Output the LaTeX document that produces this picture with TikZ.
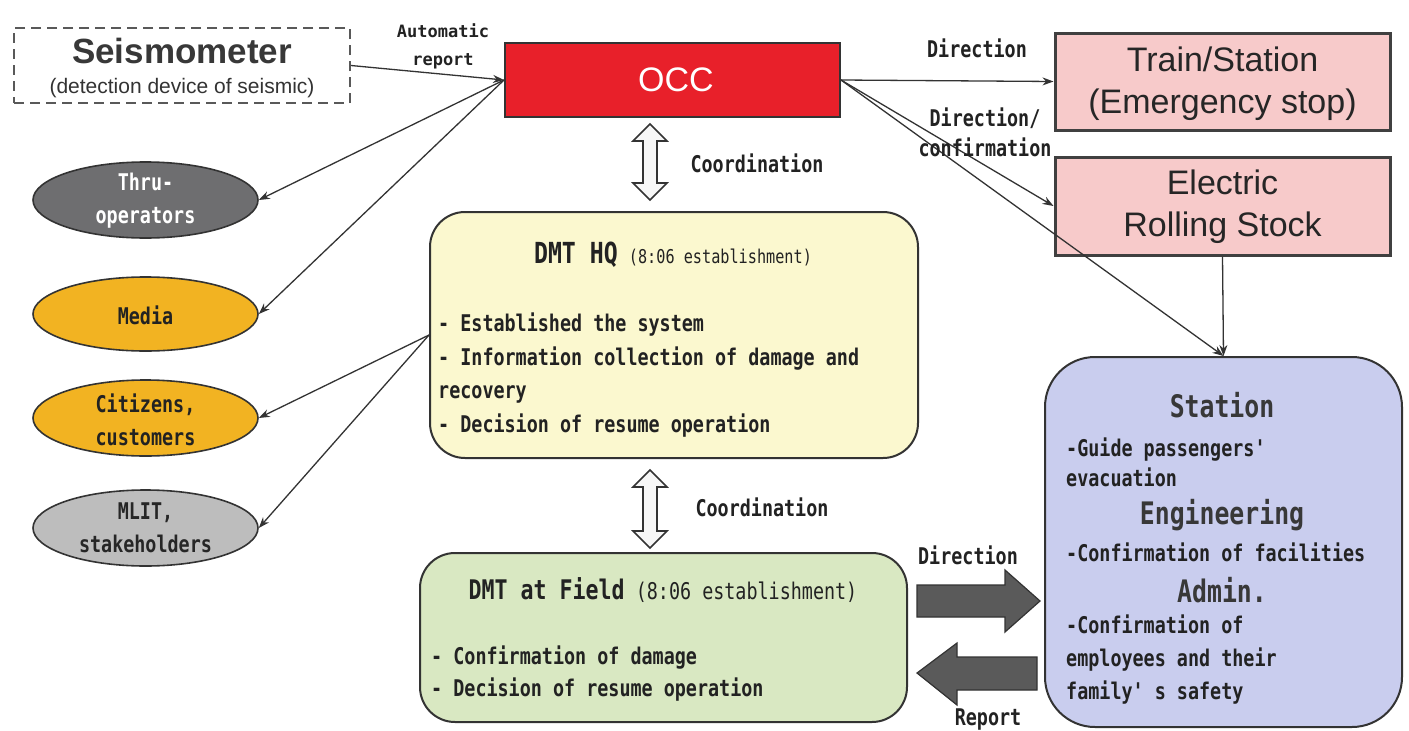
\documentclass[tikz,border=0pt]{standalone}
\usepackage{fontspec}
\setmainfont{Liberation Sans}
\newfontfamily\gothic[FakeStretch=0.8]{DejaVu Sans Mono}
\newfontfamily\gothicw{DejaVu Sans Mono}
\usetikzlibrary{arrows.meta,shapes.geometric}
\newcommand\setfs[2]{\fontsize{#1}{#2}\selectfont}

\definecolor{occred}{HTML}{E8202A}
\definecolor{pinkbox}{HTML}{F7CACA}
\definecolor{hqfill}{HTML}{FBF8CF}
\definecolor{fieldfill}{HTML}{D9E8C2}
\definecolor{stationfill}{HTML}{C9CDEE}
\definecolor{darkoval}{HTML}{6E6E70}
\definecolor{goldoval}{HTML}{F2B322}
\definecolor{lightoval}{HTML}{BDBDBD}
\definecolor{edge}{HTML}{333333}
\definecolor{ink}{HTML}{222222}
\definecolor{fatgray}{HTML}{5A5A5A}

\tikzset{
  shapebox/.style={draw=edge, line width=2pt, inner sep=0pt},
  seisbox/.style={draw=black!65, line width=2pt, dash pattern=on 10pt off 6pt, inner sep=0pt},
  pinkrect/.style={shapebox, fill=pinkbox, line width=3pt, draw=black!75},
  roundbox/.style={shapebox, rounded corners=35pt},
  oval/.style={ellipse, draw=edge, line width=1.6pt, inner sep=0pt, minimum width=225, minimum height=76},
  conn/.style={draw=edge, line width=1.3pt, -{Stealth[length=11pt,width=8pt]}},
  gtext/.style={inner sep=0pt, text=ink, font=\gothic\bfseries\setfs{23}{33}},
  gtitle/.style={inner sep=0pt, text=ink!90, font=\gothic\bfseries\setfs{31}{34}},
  atext/.style={inner sep=0pt, text=black!85},
  hollowarrow/.style={draw=edge, line width=1.6pt, fill=gray!6, line join=miter},
  fatarrow/.style={draw=edge, line width=1.2pt, fill=fatgray, line join=miter}
}

\begin{document}
\begin{tikzpicture}[x=1pt,y=-1pt]
\useasboundingbox (0,0) rectangle (1409,731);
\fill[white] (0,0) rectangle (1409,731);

% ---- boxes ----
\node[seisbox, minimum width=336, minimum height=75] (seis) at (182,65.5) {};
\node[shapebox, fill=occred, draw=black!80, minimum width=335, minimum height=74] (occ) at (672.5,80) {};
\node[pinkrect, minimum width=335, minimum height=97] (train) at (1222.5,81.5) {};
\node[pinkrect, minimum width=335, minimum height=98] (ers) at (1222.5,206) {};
\node[roundbox, fill=hqfill, minimum width=488, minimum height=246] (hq) at (674,335) {};
\node[roundbox, fill=fieldfill, minimum width=487, minimum height=169] (field) at (663.5,637.5) {};
\node[shapebox, rounded corners=50pt, fill=stationfill, minimum width=357, minimum height=370] (station) at (1223.5,542) {};

% ---- ovals ----
\node[oval, fill=darkoval] (thru) at (145.5,200) {};
\node[oval, fill=goldoval, minimum height=74] (media) at (145.5,314) {};
\node[oval, fill=goldoval] (citizens) at (145.5,418) {};
\node[oval, fill=lightoval] (mlit) at (145.5,528) {};

% ---- texts in boxes ----
\node[atext, font=\bfseries\setfs{35}{40}, text=black!78] (seist) at (182,51) {Seismometer};
\node[atext, font=\setfs{21}{24}, text=black!80] (seiss) at (182,88) {(detection device of seismic)};
\node[inner sep=0pt, text=white, font=\setfs{34}{38}] (occt) at (676,80) {OCC};
\node[atext, align=center, font=\setfs{34}{42}] (traint) at (1222.5,84) {Train/Station\\(Emergency stop)};
\node[atext, align=center, font=\setfs{34}{42}] (erst) at (1222.5,207) {Electric\\Rolling Stock};

\node[gtext, align=center, text=white] (thrut) at (145.5,201) {Thru-\\operators};
\node[gtext] (mediat) at (145.5,315) {Media};
\node[gtext, align=center] (citizenst) at (145.5,420) {Citizens,\\customers};
\node[gtext, align=center, text=black!85] (mlitt) at (145.5,528) {MLIT,\\stakeholders};

\node[gtext] (hqtitle) at (673,255) {{\setfs{29}{33}DMT HQ} {\mdseries\setfs{19}{22}(8:06 establishment)}};
\node[gtext, align=left, anchor=west, font=\gothic\bfseries\setfs{23}{33.5}] (hqbody) at (438,375)
  {- Established the system\\- Information collection of damage and\\recovery\\- Decision of resume operation};

\node[gtext] (fieldtitle) at (663,590) {{\setfs{27}{33}DMT at Field} {\mdseries(8:06 establishment)}};
\node[gtext, align=left, anchor=west, font=\gothic\bfseries\setfs{23}{32}] (fieldbody) at (431,674)
  {- Confirmation of damage\\- Decision of resume operation};

\node[gtitle] (st1) at (1222,405) {Station};
\node[gtext, align=left, anchor=west, font=\gothic\bfseries\setfs{23}{30}] (st1b) at (1066,462)
  {-Guide passengers'\\evacuation};
\node[gtitle] (st2) at (1222,515) {Engineering};
\node[gtext, anchor=west] (st2b) at (1066,552) {-Confirmation of facilities};
\node[gtitle] (st3) at (1222,590) {Admin.};
\node[gtext, align=left, anchor=west, font=\gothic\bfseries\setfs{23}{33}] (st3b) at (1066,660)
  {-Confirmation of\\employees and their\\family' s safety};

% ---- connectors ----
\draw[conn] (seis.east) -- (occ.west);
\draw[conn] (occ.west) -- (thru.east);
\draw[conn] (occ.west) -- (media.east);
\draw[conn] (hq.west) -- (citizens.east);
\draw[conn] (hq.west) -- (mlit.east);
\draw[conn] (occ.east) -- (train.west);
\draw[conn] (occ.east) -- (ers.west);
\draw[conn] (occ.east) -- (station.north);
\draw[conn] (ers.south) -- (station.north);

% ---- connector labels ----
\node[inner sep=0pt, text=ink, align=center, font=\gothicw\bfseries\setfs{17}{28}] (autolbl) at (443,46) {Automatic\\report};
\node[gtext] (dirlbl) at (977,48) {Direction};
\node[gtext, align=center, font=\gothic\bfseries\setfs{23}{30}] (dirconf) at (985,132) {Direction/\\confirmation};
\node[gtext] (coord1) at (757,163) {Coordination};
\node[gtext] (coord2) at (762,507) {Coordination};
\node[gtext] (dirfield) at (968,555) {Direction};
\node[gtext] (report) at (988,720) {Report};

% ---- coordination double arrows ----
\draw[hollowarrow, shift={(650,162)}]
  (0,-38) -- (17,-21) -- (7,-21) -- (7,21) -- (17,21) -- (0,38)
  -- (-17,21) -- (-7,21) -- (-7,-21) -- (-17,-21) -- cycle;
\draw[hollowarrow, shift={(650,509)}]
  (0,-39) -- (17,-22) -- (7,-22) -- (7,22) -- (17,22) -- (0,39)
  -- (-17,22) -- (-7,22) -- (-7,-22) -- (-17,-22) -- cycle;

% ---- direction / report block arrows ----
\draw[fatarrow] (917,585) -- (1005,585) -- (1005,570) -- (1040,601)
  -- (1005,632) -- (1005,617) -- (917,617) -- cycle;
\draw[fatarrow] (1037,657) -- (957,657) -- (957,643) -- (917,673)
  -- (957,705) -- (957,690) -- (1037,690) -- cycle;
\end{tikzpicture}
\end{document}
